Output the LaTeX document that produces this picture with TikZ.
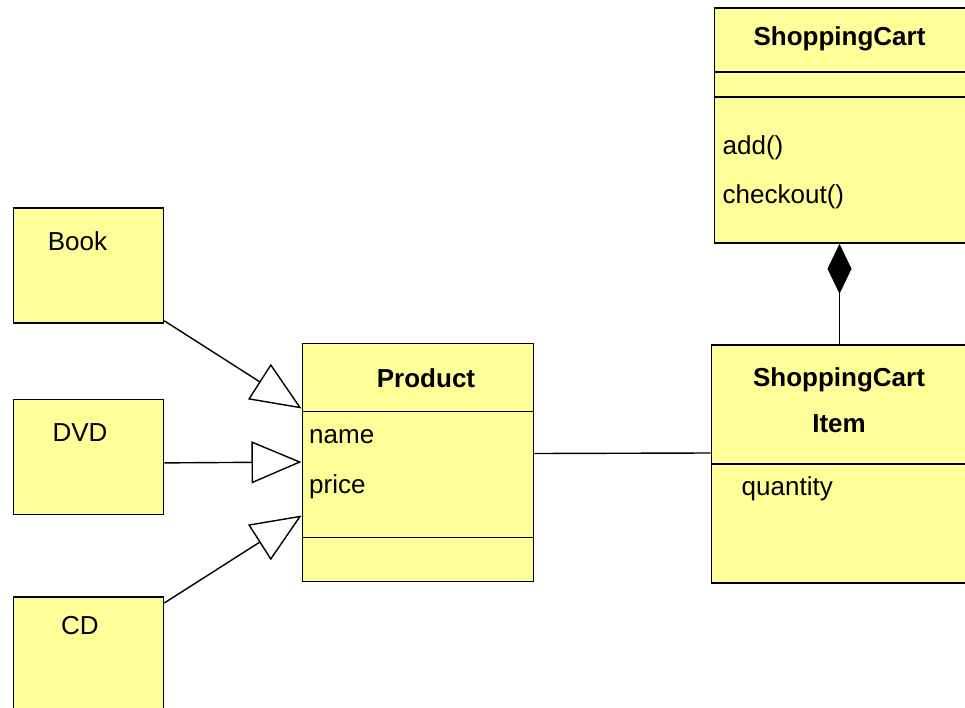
\documentclass[tikz,border=0pt]{standalone}
\usepackage{fontspec}
\setmainfont{Liberation Sans}
\usetikzlibrary{arrows.meta,calc}
\definecolor{umlyellow}{RGB}{255,255,153}
\begin{document}
\begin{tikzpicture}[x=1pt,y=-1pt,
  cls/.style={draw=black, fill=umlyellow, line width=1.8pt, rectangle, inner sep=0pt, anchor=north west},
  div/.style={line width=1.6pt},
  lbl/.style={inner sep=0pt, font=\fontsize{26}{31}\selectfont},
  ttl/.style={inner sep=0pt, font=\fontsize{26}{31}\selectfont\bfseries, anchor=base},
  gen/.style={line width=1.4pt, -{Triangle[open, length=50pt, width=42pt, line width=1.4pt]}},
  comp/.style={line width=1.4pt, -{Diamond[length=50pt, width=24pt, fill=black]}},
  assoc/.style={line width=1.4pt}
]
\clip (0,0) rectangle (965,708);
\fill[white] (0,0) rectangle (965,708);

\node[cls, minimum width=150pt, minimum height=115pt] (book) at (12.5,207) {};
\node[cls, minimum width=150pt, minimum height=115pt] (dvd) at (12.5,398.5) {};
\node[cls, minimum width=150pt, minimum height=130pt] (cd) at (12.5,596) {};
\node[cls, minimum width=231pt, minimum height=238pt] (product) at (301.5,342.5) {};
\node[cls, minimum width=260pt, minimum height=235pt] (sc) at (713.5,7) {};
\node[cls, minimum width=260pt, minimum height=238pt] (sci) at (710.5,344) {};

\draw[div] ($(product.north west)+(0,69)$) -- ($(product.north east)+(0,69)$);
\draw[div] ($(product.north west)+(0,195)$) -- ($(product.north east)+(0,195)$);
\draw[div] ($(sc.north west)+(0,65)$) -- ($(sc.north east)+(0,65)$);
\draw[div] ($(sc.north west)+(0,90)$) -- ($(sc.north east)+(0,90)$);
\draw[div] ($(sci.north west)+(0,120)$) -- ($(sci.north east)+(0,120)$);

\node[lbl, anchor=base] (booklbl) at (77.5,251) {Book};
\node[lbl, anchor=base] (dvdlbl) at (80,441) {DVD};
\node[lbl, anchor=base] (cdlbl) at (80,634) {CD};
\node[ttl] (prodttl) at (426,387) {Product};
\node[lbl, anchor=base west] (pname) at (309,443) {name};
\node[lbl, anchor=base west] (pprice) at (309,493) {price};
\node[ttl] (scttl) at (839.5,45.5) {ShoppingCart};
\node[lbl, anchor=base west] (scadd) at (722.5,155) {add()};
\node[lbl, anchor=base west] (sccheck) at (722.5,204) {checkout()};
\node[ttl] (scittl1) at (839,386) {ShoppingCart};
\node[ttl] (scittl2) at (839,432) {Item};
\node[lbl, anchor=base west] (sciq) at (741.5,495) {quantity};

\draw[gen] ($(book.south east)+(0,-3)$) -- ($(product.north west)+(0,66)$);
\draw[gen] ($(dvd.east)+(0,6)$) -- ($(product.north west)+(0,119.5)$);
\draw[gen] ($(cd.north east)+(0,7)$) -- ($(product.north west)+(0,173)$);
\draw[comp] ($(sci.north west)+(129,0)$) -- ($(sc.south west)+(126,0)$);
\draw[assoc] ($(product.north east)+(0,111)$) -- ($(sci.north west)+(0,109)$);
\end{tikzpicture}
\end{document}
